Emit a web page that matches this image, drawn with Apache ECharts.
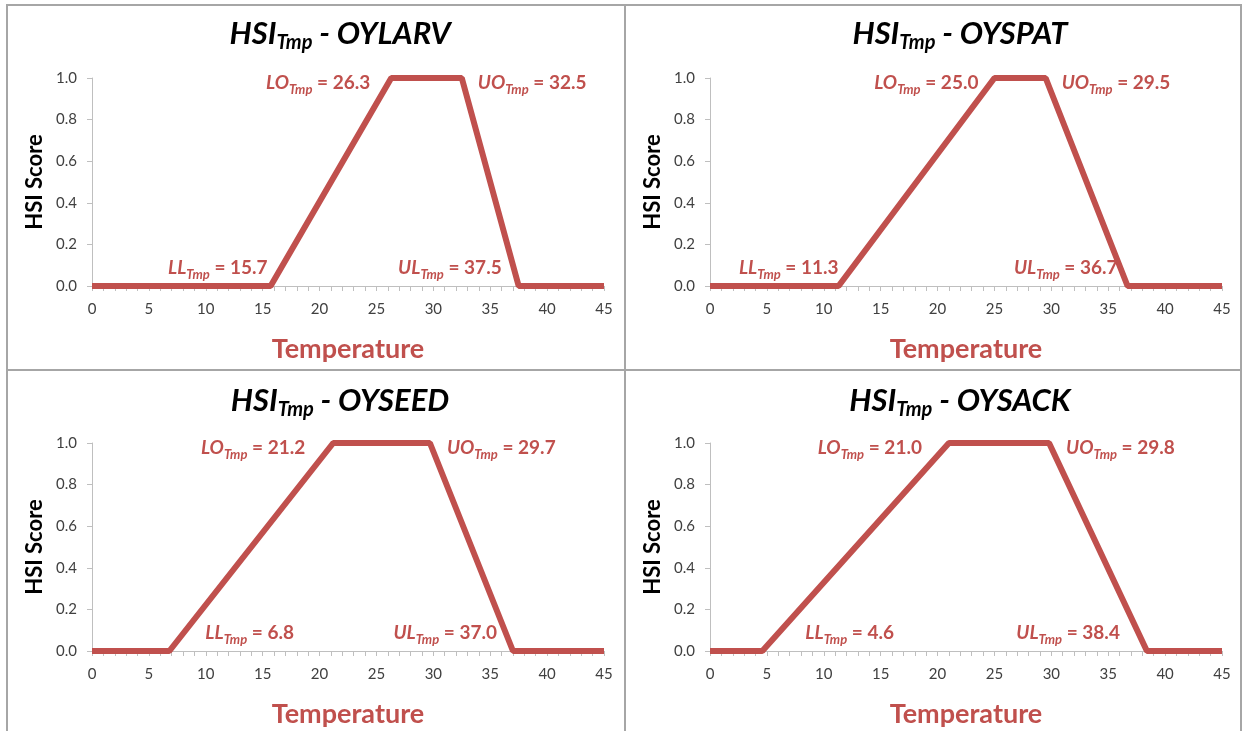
<!DOCTYPE html>
<html>
<head>
<meta charset="utf-8">
<script src="https://cdn.jsdelivr.net/npm/echarts@6.0.0/dist/echarts.min.js"></script>
<style>
html,body{margin:0;padding:0;background:#fff;}
#chart{width:1244px;height:731px;}
</style>
</head>
<body>
<div id="chart"></div>
<script>
// ---- data ----
const panelNames = ['OYLARV', 'OYSPAT', 'OYSEED', 'OYSACK'];
const LL = [15.7, 11.3, 6.8, 4.6];
const LO = [26.3, 25.0, 21.2, 21.0];
const UO = [32.5, 29.5, 29.7, 29.8];
const UL = [37.5, 36.7, 37.0, 38.4];
const xRange = [0, 45];
const xStep = 5;
const yRange = [0, 1];
const yStep = 0.2;

// ---- layout / style ----
const FONT = 'Lato, "Open Sans", sans-serif';
const RED = '#C0504D';
const GRAY = '#bfbfbf';
const grids = [
  {left: 92, top: 78, width: 512, height: 208},
  {left: 710, top: 78, width: 512, height: 208},
  {left: 92, top: 443, width: 512, height: 208},
  {left: 710, top: 443, width: 512, height: 208}
];
const titlePos = [{x: 335, y: 10}, {x: 955, y: 10}, {x: 335, y: 377}, {x: 955, y: 377}];
const llPlace = [['left', 3], ['left', 0], ['right', 36], ['right', 43]];
const ulPlace = [['left', 17], ['left', 10], ['left', 16], ['left', 27]];
const loDist = [21, 16, 28, 27];
const uoDist = [16, 16, 17, 17];

const rich = {
  i: {fontFamily: FONT, fontStyle: 'italic', fontWeight: 'bold', fontSize: 19, color: RED, lineHeight: 26},
  s: {fontFamily: FONT, fontStyle: 'italic', fontWeight: 'bold', fontSize: 13, color: RED, lineHeight: 13, verticalAlign: 'bottom'},
  n: {fontFamily: FONT, fontWeight: 'bold', fontSize: 19, color: RED, lineHeight: 26}
};
function lab(abbr, val, pos, dist, dy) {
  return {
    show: true, position: pos, distance: dist, offset: [0, dy],
    formatter: '{i|' + abbr + '}{s|Tmp}{n| = ' + val.toFixed(1) + '}',
    rich: rich
  };
}

const titles = [], xAxes = [], yAxes = [], series = [];
panelNames.forEach((name, k) => {
  titles.push({
    left: titlePos[k].x, top: titlePos[k].y, textAlign: 'center',
    text: '{a|HSI}{b|Tmp}{a| - ' + name + '}',
    textStyle: {
      rich: {
        a: {fontFamily: FONT, fontStyle: 'italic', fontWeight: 'bold', fontSize: 31, color: '#000', lineHeight: 38},
        b: {fontFamily: FONT, fontStyle: 'italic', fontWeight: 'bold', fontSize: 20, color: '#000', lineHeight: 20, verticalAlign: 'bottom'}
      }
    }
  });
  xAxes.push({
    type: 'value', gridIndex: k, min: xRange[0], max: xRange[1], interval: xStep,
    name: 'Temperature', nameLocation: 'middle', nameGap: 50,
    nameTextStyle: {fontFamily: FONT, fontWeight: 'bold', fontSize: 27, color: RED},
    axisLine: {show: true, lineStyle: {color: GRAY, width: 1}},
    axisTick: {show: true, length: 5, lineStyle: {color: GRAY}},
    minorTick: {show: true, splitNumber: 5, length: 5, lineStyle: {color: GRAY}},
    splitLine: {show: false},
    axisLabel: {fontFamily: FONT, fontSize: 15, color: '#404040', margin: 16}
  });
  yAxes.push({
    type: 'value', gridIndex: k, min: yRange[0], max: yRange[1], interval: yStep,
    name: 'HSI Score', nameLocation: 'middle', nameGap: 46, nameRotate: 90,
    nameTextStyle: {fontFamily: FONT, fontWeight: 'bold', fontSize: 22, color: '#000'},
    axisLine: {show: true, lineStyle: {color: GRAY, width: 1}},
    axisTick: {show: true, length: 5, lineStyle: {color: GRAY}},
    splitLine: {show: false},
    axisLabel: {fontFamily: FONT, fontSize: 15, color: '#404040', margin: 15, formatter: v => v.toFixed(1)}
  });
  series.push({
    type: 'line', xAxisIndex: k, yAxisIndex: k,
    symbol: 'circle', symbolSize: 0, showSymbol: true,
    lineStyle: {color: RED, width: 6},
    itemStyle: {color: RED},
    animation: false, silent: true,
    data: [
      {value: [xRange[0], 0]},
      {value: [LL[k], 0], label: lab('LL', LL[k], llPlace[k][0], llPlace[k][1], -18)},
      {value: [LO[k], 1], label: lab('LO', LO[k], 'left', loDist[k], 5)},
      {value: [UO[k], 1], label: lab('UO', UO[k], 'right', uoDist[k], 5)},
      {value: [UL[k], 0], label: lab('UL', UL[k], ulPlace[k][0], ulPlace[k][1], -18)},
      {value: [xRange[1], 0]}
    ]
  });
});

const chart = echarts.init(document.getElementById('chart'), null, {renderer: 'canvas'});
chart.setOption({
  backgroundColor: '#fff',
  animation: false,
  title: titles,
  grid: grids,
  xAxis: xAxes,
  yAxis: yAxes,
  series: series,
  graphic: [
    {type: 'rect', shape: {x: 7, y: 5, width: 1234, height: 745}, style: {fill: null, stroke: '#a6a6a6', lineWidth: 2}, silent: true},
    {type: 'line', shape: {x1: 625, y1: 5, x2: 625, y2: 731}, style: {stroke: '#a6a6a6', lineWidth: 2}, silent: true},
    {type: 'line', shape: {x1: 7, y1: 370, x2: 1241, y2: 370}, style: {stroke: '#a6a6a6', lineWidth: 2}, silent: true}
  ]
});
</script>
</body>
</html>
